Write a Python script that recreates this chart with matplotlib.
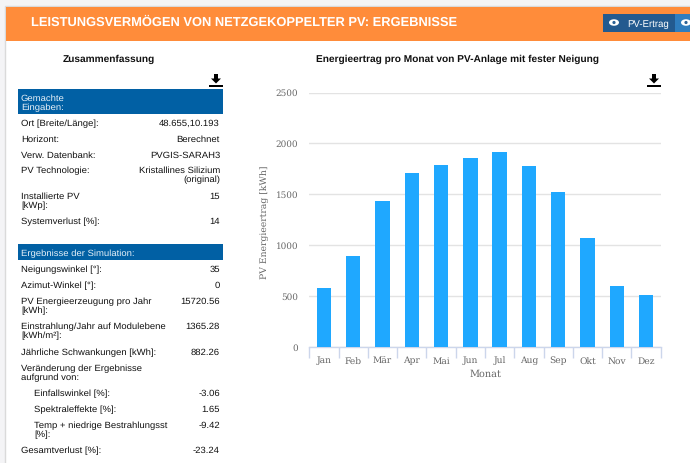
import matplotlib
matplotlib.use("Agg")
import matplotlib.pyplot as plt
from matplotlib.patches import Rectangle, Polygon, Ellipse, Circle

plt.rcParams["text.hinting"] = "no_hinting"

W, H = 690, 463

months = ["Jan", "Feb", "Mär", "Apr", "Mai", "Jun", "Jul", "Aug", "Sep", "Okt", "Nov", "Dez"]
energy_kwh = [580, 894, 1434, 1709, 1788, 1857, 1915, 1778, 1522, 1070, 600, 510]
y_ticks = [0, 500, 1000, 1500, 2000, 2500]

input_rows = [
    (122, "Ort [Breite/Länge]:", "48.655,10.193"),
    (138, "Horizont:", "Berechnet"),
    (154, "Verw. Datenbank:", "PVGIS-SARAH3"),
    (169, "PV Technologie:", "Kristallines Silizium\n(original)"),
    (195, "Installierte PV\n[kWp]:", "15"),
    (220, "Systemverlust [%]:", "14"),
]
result_rows = [
    (268, 21, "Neigungswinkel [°]:", "35"),
    (284, 21, "Azimut-Winkel [°]:", "0"),
    (300, 21, "PV Energieerzeugung pro Jahr\n[kWh]:", "15720.56"),
    (325, 21, "Einstrahlung/Jahr auf Modulebene\n[kWh/m²]:", "1365.28"),
    (351, 21, "Jährliche Schwankungen [kWh]:", "882.26"),
    (367, 21, "Veränderung der Ergebnisse\naufgrund von:", ""),
    (392, 34, "Einfallswinkel [%]:", "-3.06"),
    (408, 34, "Spektraleffekte [%]:", "1.65"),
    (424, 34, "Temp + niedrige Bestrahlungsst\n[%]:", "-9.42"),
    (449, 21, "Gesamtverlust [%]:", "-23.24"),
]

SANS = "Liberation Sans"
SERIF = "DejaVu Serif"
BODY = 6.8
LINE_GAP = 9.7
BASELINE_DROP = 3.9
ORANGE = "#FF8C3A"
BLUE = "#0160A4"
INK = "#111111"

fig = plt.figure(figsize=(W / 100, H / 100), dpi=100, facecolor="white")

# Page furniture drawn in pixel coordinates
page = fig.add_axes([0, 0, 1, 1], zorder=0)
page.set_xlim(0, W)
page.set_ylim(H, 0)
page.axis("off")
page.add_patch(Rectangle((0, 0), W, H, fc="#F4F4F6", ec="none"))
page.add_patch(Rectangle((5, 6), W, H, fc="white", ec="#DADADA", lw=1))
page.add_patch(Rectangle((6, 7), W, 34, fc=ORANGE, ec="none"))
page.text(31, 25.5, "LEISTUNGSVERMÖGEN VON NETZGEKOPPELTER PV: ERGEBNISSE",
          family=SANS, weight="bold", fontsize=9.25, color="white", va="baseline", ha="left")


def cell_text(x, y, text, ha="left", color=INK):
    # Each wrapped line is placed on its own baseline so the line pitch stays exact.
    for i, line in enumerate(text.split("\n")):
        page.text(x, y + BASELINE_DROP + i * LINE_GAP, line, family=SANS, fontsize=BODY,
                  color=color, va="baseline", ha=ha, zorder=5)


def eye(cx, cy):
    page.add_patch(Ellipse((cx, cy), 10, 6.5, fc="white", ec="none", zorder=3))
    page.add_patch(Circle((cx, cy), 1.6, fc="#2B6296", ec="none", zorder=4))


def download_icon(cx, top):
    page.add_patch(Rectangle((cx - 1.9, top), 3.8, 5, fc="black", ec="none", zorder=3))
    page.add_patch(Polygon([(cx - 5, top + 4.5), (cx + 5, top + 4.5), (cx, top + 9.5)],
                           fc="black", ec="none", zorder=3))
    page.add_patch(Rectangle((cx - 7, top + 10.5), 14, 2.6, fc="black", ec="none", zorder=3))


page.add_patch(Rectangle((603, 14), 72, 18, fc="#235A8F", ec="none", zorder=2))
page.add_patch(Rectangle((675, 14), 15, 18, fc="#2F7DBE", ec="none", zorder=2))
eye(614, 22.5)
eye(686, 22.5)
page.text(627, 26.5, "PV-Ertrag", family=SANS, fontsize=6.9, color="white",
          va="baseline", ha="left", zorder=5)

page.text(109, 61.5, "Zusammenfassung", family=SANS, weight="bold", fontsize=7.3,
          color=INK, ha="center", va="baseline")
page.text(457.5, 61.5, "Energieertrag pro Monat von PV-Anlage mit fester Neigung", family=SANS,
          weight="bold", fontsize=7.25, color=INK, ha="center", va="baseline")
download_icon(216, 74)
download_icon(654, 74)

page.add_patch(Rectangle((18, 89), 205, 25, fc=BLUE, ec="none"))
cell_text(21, 96.7, "Gemachte\nEingaben:", color="#E6F0F8")
page.add_patch(Rectangle((18, 244), 205, 16, fc=BLUE, ec="none"))
cell_text(21, 252.5, "Ergebnisse der Simulation:", color="#E6F0F8")

for y, label, value in input_rows:
    cell_text(21, y, label)
    cell_text(220, y, value, ha="right")

for y, x, label, value in result_rows:
    cell_text(x, y, label)
    cell_text(220, y, value, ha="right")

# Monthly energy bar chart
left, right, bottom, top = 309.3, 660.7, 347.0, 92.5
ax = fig.add_axes([left / W, 1 - bottom / H, (right - left) / W, (bottom - top) / H], zorder=2)
ax.patch.set_alpha(0)
positions = list(range(len(months)))
ax.bar(positions, energy_kwh, width=0.49, color="#1FA8FF", zorder=3)
ax.set_xlim(-0.5, len(months) - 0.5)
ax.set_ylim(0, 2500)
ax.set_yticks(y_ticks)
ax.set_xticks(positions)
ax.set_xticklabels(months)
ax.set_xticks([p - 0.5 for p in positions] + [len(months) - 0.5], minor=True)
ax.grid(axis="y", color="#E3E3E3", lw=1, zorder=0)
ax.set_axisbelow(True)
for side in ("top", "right", "left"):
    ax.spines[side].set_visible(False)
ax.spines["bottom"].set_color("#CCD6EB")
ax.spines["bottom"].set_linewidth(1)
ax.tick_params(axis="y", length=0, pad=8, labelsize=6.4, labelcolor="#666666")
ax.tick_params(axis="x", which="major", length=0, pad=7, labelsize=6.6, labelcolor="#666666")
ax.tick_params(axis="x", which="minor", length=8, width=1, color="#CCD6EB")
for tick in ax.get_xticklabels() + ax.get_yticklabels():
    tick.set_family(SERIF)
ax.set_xlabel("Monat", family=SERIF, fontsize=7.0, color="#666666", labelpad=3)
ax.set_ylabel("PV Energieertrag [kWh]", family=SERIF, fontsize=6.7, color="#666666", labelpad=4.5, y=0.49)

fig.savefig("out.png", dpi=100)
